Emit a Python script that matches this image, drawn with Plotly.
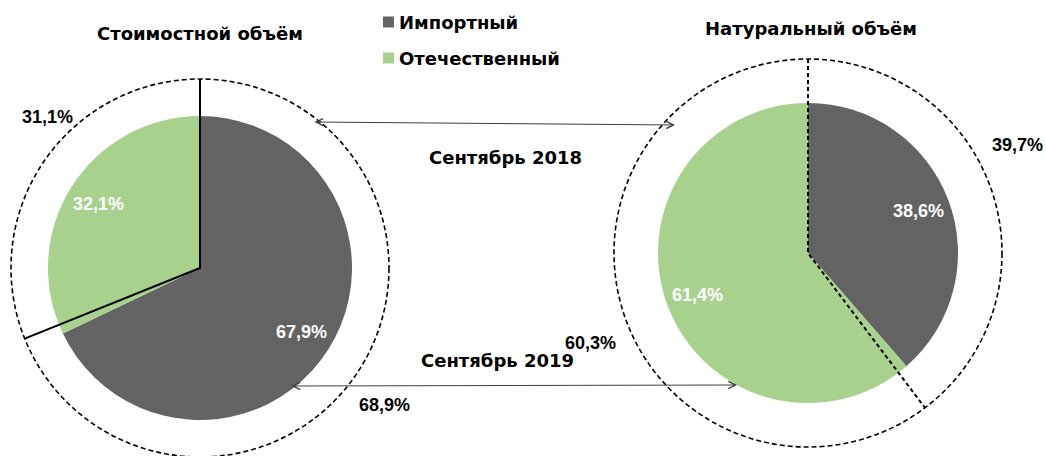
import math
import plotly.graph_objects as go

# ---------------- data ----------------
categories = ["Импортный", "Отечественный"]
value_2019 = [67.9, 32.1]      # Стоимостной объём, сентябрь 2019 (inner pie)
value_2018 = [68.9, 31.1]      # Стоимостной объём, сентябрь 2018 (outer ring)
volume_2019 = [38.6, 61.4]     # Натуральный объём, сентябрь 2019 (inner pie)
volume_2018 = [39.7, 60.3]     # Натуральный объём, сентябрь 2018 (outer ring)
chart_titles = ["Стоимостной объём", "Натуральный объём"]
period_labels = ["Сентябрь 2018", "Сентябрь 2019"]

# ---------------- layout / style ----------------
W, H = 1046, 456          # browser window
OFF = 0                   # page body margin (removed by post_script)
FW, FH = W - 2 * OFF, H - 2 * OFF
COLORS = ["#636363", "#A9D18E"]
TITLE_FONT = dict(family="DejaVu Sans", size=18, color="#000000", weight="bold")
PCT_FONT = "Liberation Sans"
PCT_SIZE = 18

charts = [
    dict(inner=value_2019, outer=value_2018, cx=200, cy=268, r=152, R=189,
         title=chart_titles[0], title_xy=(200, 33), radial_dash="solid",
         outer_label_xy=[(384, 405), (47, 117)]),
    dict(inner=volume_2019, outer=volume_2018, cx=808, cy=253, r=150, R=194,
         title=chart_titles[1], title_xy=(811, 28), radial_dash="4px,3px",
         outer_label_xy=[(1017, 145), (590, 343)]),
]


def fmt(v):
    return f"{v:.1f}".replace(".", ",") + "%"


def point(cx, cy, rad, frac):
    """point at fraction `frac` of a full turn, clockwise from 12 o'clock"""
    a = 2 * math.pi * frac
    return cx + rad * math.sin(a), cy - rad * math.cos(a)


def px_x(x):
    return (x - OFF) / FW


def px_y(y):
    return 1 - (y - OFF) / FH


fig = go.Figure()
shapes = []
annotations = []

for ch in charts:
    cx, cy, r, R = ch["cx"], ch["cy"], ch["r"], ch["R"]
    fig.add_trace(go.Pie(
        labels=categories, values=ch["inner"], sort=False, direction="clockwise",
        rotation=0, marker=dict(colors=COLORS, line=dict(width=0)),
        textinfo="none", hoverinfo="label+percent", showlegend=False,
        domain=dict(x=[px_x(cx - r), px_x(cx + r)],
                    y=[px_y(cy + r), px_y(cy - r)]),
    ))
    # outer dashed circle (September 2018)
    shapes.append(dict(type="circle", xref="x", yref="y",
                       x0=cx - R, x1=cx + R, y0=cy - R, y1=cy + R,
                       line=dict(color="#000000", width=1.6, dash="5px,3px"),
                       fillcolor="rgba(0,0,0,0)", layer="above"))
    # radial boundaries of the outer ring
    tot = sum(ch["outer"])
    x0, y0 = point(cx, cy, R, 0)
    x1, y1 = point(cx, cy, R, ch["outer"][0] / tot)
    shapes.append(dict(type="path", xref="x", yref="y",
                       path=f"M {x0},{y0} L {cx},{cy} L {x1},{y1}",
                       line=dict(color="#000000", width=2, dash=ch["radial_dash"]),
                       layer="above"))
    # inner labels, along slice bisectors
    tot_in = sum(ch["inner"])
    cum = 0
    for v in ch["inner"]:
        mid = (cum + v / 2) / tot_in
        lx, ly = point(cx, cy, r * 0.79, mid)
        annotations.append(dict(x=lx, y=ly, xref="x", yref="y", text=fmt(v),
                                showarrow=False,
                                font=dict(family=PCT_FONT, size=PCT_SIZE, color="#FFFFFF", weight="bold")))
        cum += v
    # outer labels
    for v, (lx, ly) in zip(ch["outer"], ch["outer_label_xy"]):
        annotations.append(dict(x=lx, y=ly, xref="x", yref="y", text=fmt(v),
                                showarrow=False,
                                font=dict(family=PCT_FONT, size=PCT_SIZE, color="#000000", weight="bold")))
    # title
    annotations.append(dict(x=ch["title_xy"][0], y=ch["title_xy"][1], xref="x", yref="y",
                            text=ch["title"], showarrow=False, font=TITLE_FONT))

# period labels and double-headed arrows
arrows = [((313, 122), (675, 125)), ((290, 386), (737, 385))]
period_xy = [(505, 157), (497, 360)]
for lab, (px, py), ((ax0, ay0), (ax1, ay1)) in zip(period_labels, period_xy, arrows):
    annotations.append(dict(x=px, y=py, xref="x", yref="y", text=lab,
                            showarrow=False, font=TITLE_FONT))
    annotations.append(dict(x=ax1, y=ay1, xref="x", yref="y", ax=ax0, ay=ay0,
                            axref="x", ayref="y", text="", showarrow=True,
                            arrowside="end+start", arrowhead=5, startarrowhead=5,
                            arrowsize=1.4, startarrowsize=1.4, arrowwidth=1,
                            arrowcolor="#404040", standoff=0, startstandoff=0))

# legend (drawn manually)
legend_y = [22, 58]
for cat, col, ly in zip(categories, COLORS, legend_y):
    shapes.append(dict(type="rect", xref="x", yref="y", x0=383, x1=394,
                       y0=ly - 5.5, y1=ly + 5.5, fillcolor=col, line=dict(width=0)))
    annotations.append(dict(x=397, y=ly, xref="x", yref="y", text=cat, xanchor="left",
                            showarrow=False, font=TITLE_FONT))

fig.update_layout(
    width=FW, height=FH, margin=dict(l=0, r=0, t=0, b=0),
    paper_bgcolor="#FFFFFF", plot_bgcolor="rgba(0,0,0,0)",
    xaxis=dict(range=[OFF, OFF + FW], visible=False, fixedrange=True),
    yaxis=dict(range=[OFF + FH, OFF], visible=False, fixedrange=True),
    shapes=shapes, annotations=annotations, showlegend=False,
)

fig.write_html("out.html", config={"displayModeBar": False},
               post_script="document.body.style.margin='0';document.body.style.overflow='hidden';")
